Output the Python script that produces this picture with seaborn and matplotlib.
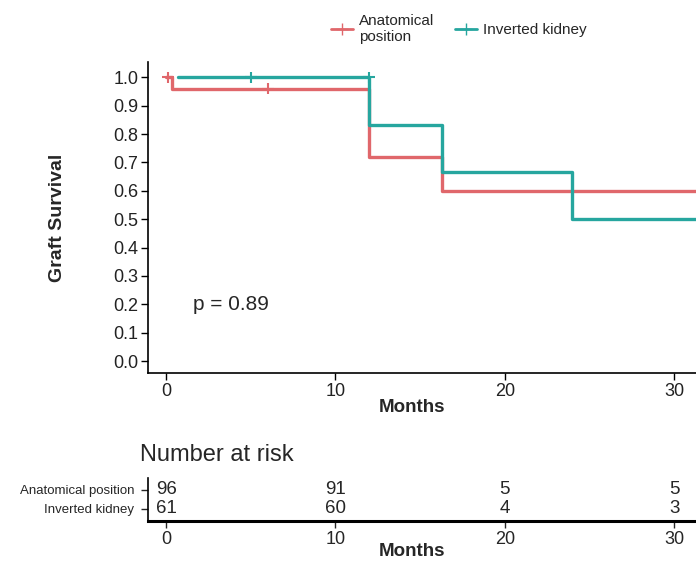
import numpy as np
import pandas as pd
from matplotlib import pyplot as plt
import seaborn as sns

# survival curves (step points)
anat_time = [0, 0.35, 12, 16.3, 31.5]
anat_surv = [1.0, 0.96, 0.72, 0.60, 0.60]
inv_time = [0.7, 12, 16.3, 24, 31.5]
inv_surv = [1.0, 0.833, 0.667, 0.50, 0.50]

# censor marks
anat_cens_t = [0.1, 6]
anat_cens_s = [1.0, 0.96]
inv_cens_t = [5, 12]
inv_cens_s = [1.0, 1.0]

groups = ["Anatomical position", "Inverted kidney"]
legend_labels = ["Anatomical\nposition", "Inverted kidney"]
risk_times = [0, 10, 20, 30]
risk_anat = [96, 91, 5, 5]
risk_inv = [61, 60, 4, 3]
p_text = "p = 0.89"

colors = {"Anatomical position": "#E0676B", "Inverted kidney": "#26A69F"}

curves = pd.concat([
    pd.DataFrame({"Months": anat_time, "Survival": anat_surv, "group": groups[0]}),
    pd.DataFrame({"Months": inv_time, "Survival": inv_surv, "group": groups[1]}),
])
cens = pd.concat([
    pd.DataFrame({"Months": anat_cens_t, "Survival": anat_cens_s, "group": groups[0]}),
    pd.DataFrame({"Months": inv_cens_t, "Survival": inv_cens_s, "group": groups[1]}),
])

sns.set_style("white")
plt.rcParams["font.family"] = ["Liberation Sans", "DejaVu Sans"]

fig = plt.figure(figsize=(6.96, 5.61), dpi=100)
ax = fig.add_axes([0.2126, 0.335, 0.79, 0.554])

sns.lineplot(data=curves, x="Months", y="Survival", hue="group", palette=colors,
             drawstyle="steps-post", estimator=None, linewidth=2.4, ax=ax, legend=False)
sns.scatterplot(data=cens, x="Months", y="Survival", hue="group", palette=colors,
                marker="+", s=70, linewidth=1.5, ax=ax, legend=False, zorder=5)

ax.set_xlim(-1.07, 31.4)
ax.set_ylim(-0.042, 1.053)
ax.set_yticks(np.arange(0, 1.01, 0.1))
ax.set_yticklabels([f"{v:.1f}" for v in np.arange(0, 1.01, 0.1)])
ax.set_xticks([0, 10, 20, 30])
ax.tick_params(axis="both", direction="out", length=5, width=1, labelsize=13,
               colors="black", labelcolor="#222222", bottom=True, left=True, pad=2)
for s in ["top", "right"]:
    ax.spines[s].set_visible(False)
for s in ["left", "bottom"]:
    ax.spines[s].set_linewidth(1.2)
    ax.spines[s].set_color("black")
ax.set_ylabel("Graft Survival", fontsize=14, fontweight="bold", labelpad=34)
ax.set_xlabel("Months", fontsize=13.5, fontweight="bold")
ax.xaxis.set_label_coords(0.48, -0.085)
ax.text(1.6, 0.2, p_text, fontsize=15, va="center", ha="left")

handles = [plt.Line2D([], [], color=colors[g], marker="+", markersize=9, linewidth=2) for g in groups]
fig.legend(handles, legend_labels, loc="upper left", bbox_to_anchor=(0.456, 1.0), ncol=2,
           frameon=False, fontsize=11, handlelength=1.4, handletextpad=0.4, columnspacing=1.4,
           labelspacing=0.2)

# risk table
rax = fig.add_axes([0.2126, 0.0713, 0.79, 0.077])
rax.set_xlim(-1.07, 31.4)
rax.set_ylim(0, 1)
risk = pd.DataFrame({"Months": risk_times * 2, "n": risk_anat + risk_inv,
                     "row": [0.72] * 4 + [0.28] * 4})
for t, n, row in zip(risk["Months"], risk["n"], risk["row"]):
    rax.text(t, row, str(int(n)), ha="center", va="center", fontsize=13.5)
rax.set_yticks([0.72, 0.28])
rax.set_yticklabels(groups)
rax.set_xticks(risk_times)
rax.tick_params(axis="both", direction="out", length=5, width=1, labelsize=13,
                bottom=True, left=True, pad=2)
rax.tick_params(axis="y", labelsize=9.5, pad=5)
for s in ["top", "right"]:
    rax.spines[s].set_visible(False)
rax.spines["left"].set_linewidth(1.2)
rax.spines["bottom"].set_linewidth(2.2)
rax.spines["left"].set_color("black")
rax.spines["bottom"].set_color("black")
rax.set_xlabel("Months", fontsize=13.5, fontweight="bold")
rax.xaxis.set_label_coords(0.48, -0.52)
fig.text(0.2011, 0.189, "Number at risk", fontsize=17, ha="left", va="center")

fig.savefig("out.png", dpi=100)
